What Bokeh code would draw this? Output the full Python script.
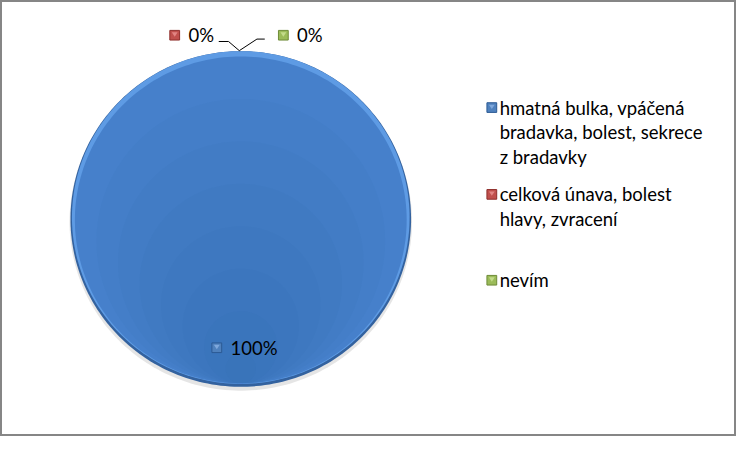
import math
from bokeh.plotting import figure
from bokeh.models import Range1d
from bokeh.core.properties import value
from bokeh.embed import file_html
from bokeh.resources import INLINE

# ---- data ----
categories = ["hmatná bulka, vpáčená\nbradavka, bolest, sekrece\nz bradavky",
              "celková únava, bolest\nhlavy, zvracení",
              "nevím"]
values = [100, 0, 0]
colors = ["#4680CB", "#C0504D", "#9BBB59"]
pct_labels = ["100%", "0%", "0%"]

W, H = 752, 452
FONT = "Lato"
FS = "18.5px"

p = figure(width=736, height=436, output_backend="svg", toolbar_location=None,
           x_range=Range1d(0, W), y_range=Range1d(H, 0), min_border=0)
p.axis.visible = False
p.grid.visible = False
p.outline_line_color = "#868686"
p.outline_line_width = 3
p.background_fill_color = "white"
p.border_fill_color = "white"

cx, cy, r = 245.5, 226.5, 174.0
total = float(sum(values))

def arc_poly(a0, a1, rad, ox=0.0, oy=0.0, n=240):
    full = abs(a1 - a0) >= 2 * math.pi - 1e-9
    xs, ys = ([] if full else [cx + ox]), ([] if full else [cy + oy])
    steps = max(2, int(n * abs(a1 - a0) / (2 * math.pi)) + 2)
    for i in range(steps + 1):
        a = a0 + (a1 - a0) * i / steps
        xs.append(cx + ox + rad * math.sin(a))
        ys.append(cy + oy - rad * math.cos(a))
    return xs, ys

# slices (clockwise from 12 o'clock)
cum = 0.0
for v, c in zip(values, colors):
    a0 = 2 * math.pi * cum / total
    a1 = 2 * math.pi * (cum + v) / total
    cum += v
    if v <= 0:
        continue
    # soft shadow
    xs, ys = arc_poly(a0, a1, r + 1, 0, 3)
    p.patch(xs, ys, fill_color="#000000", fill_alpha=0.10, line_color=None)
    # dark rim
    xs, ys = arc_poly(a0, a1, r)
    p.patch(xs, ys, fill_color="#33629F", line_color=None)
    # light top rim
    xs, ys = arc_poly(a0, a1, r - 1.5, 0, -1.5)
    p.patch(xs, ys, fill_color="#5E9BE4", line_color=None)
    # main body
    xs, ys = arc_poly(a0, a1, r - 4.5, 0, 1.0)
    p.patch(xs, ys, fill_color=c, line_color=None)
    # gentle vertical darkening toward the bottom
    for k in range(1, 8):
        d = 22.0 * k
        xs, ys = arc_poly(a0, a1, r - 4.5 - d, 0, 1.0 + d)
        p.patch(xs, ys, fill_color="#2F5D9E", fill_alpha=0.05, line_color=None)

# legend-key style marker
def key(x, y, c, dark, light):
    s = 10
    p.quad(left=[x], right=[x + s], top=[y - s / 2], bottom=[y + s / 2],
           fill_color=c, line_color=dark, line_width=1)
    p.patch([x + 2, x + s - 2, x + s / 2], [y - s / 2 + 2, y - s / 2 + 2, y + 1.5],
            fill_color=light, line_color=None)

key_colors = ["#4F81BD", "#C0504D", "#9BBB59"]
darks = ["#2C5A94", "#8E2E2B", "#6E8B38"]
lights = ["#7FA8DC", "#E28583", "#C3DB8A"]

# data labels
lab_pos = [(216, 360), (173, 36), (284, 36)]
for (lx, ly), t, c, d, l in zip(lab_pos, pct_labels, key_colors, darks, lights):
    key(lx, ly, c, d, l)
    p.text(x=[lx + 19], y=[ly], text=[t], text_font=value(FONT), text_font_size=FS,
           text_baseline="middle", text_color="#000000")

# leader lines for zero slices
p.line([223, 233, 244, 262, 270], [42.5, 42.5, 52, 40, 40], line_color="#000000", line_width=1)

# legend
leg_y = [111, 201, 290]
line_h = 25.5
for y0, cat, c, d, l in zip(leg_y, categories, key_colors, darks, lights):
    key(497, y0, c, d, l)
    for i, ln in enumerate(cat.split("\n")):
        p.text(x=[510], y=[y0 + i * line_h], text=[ln], text_font=value(FONT),
               text_font_size=FS, text_baseline="middle", text_color="#000000")

open("out.html", "w").write(file_html(p, INLINE))
